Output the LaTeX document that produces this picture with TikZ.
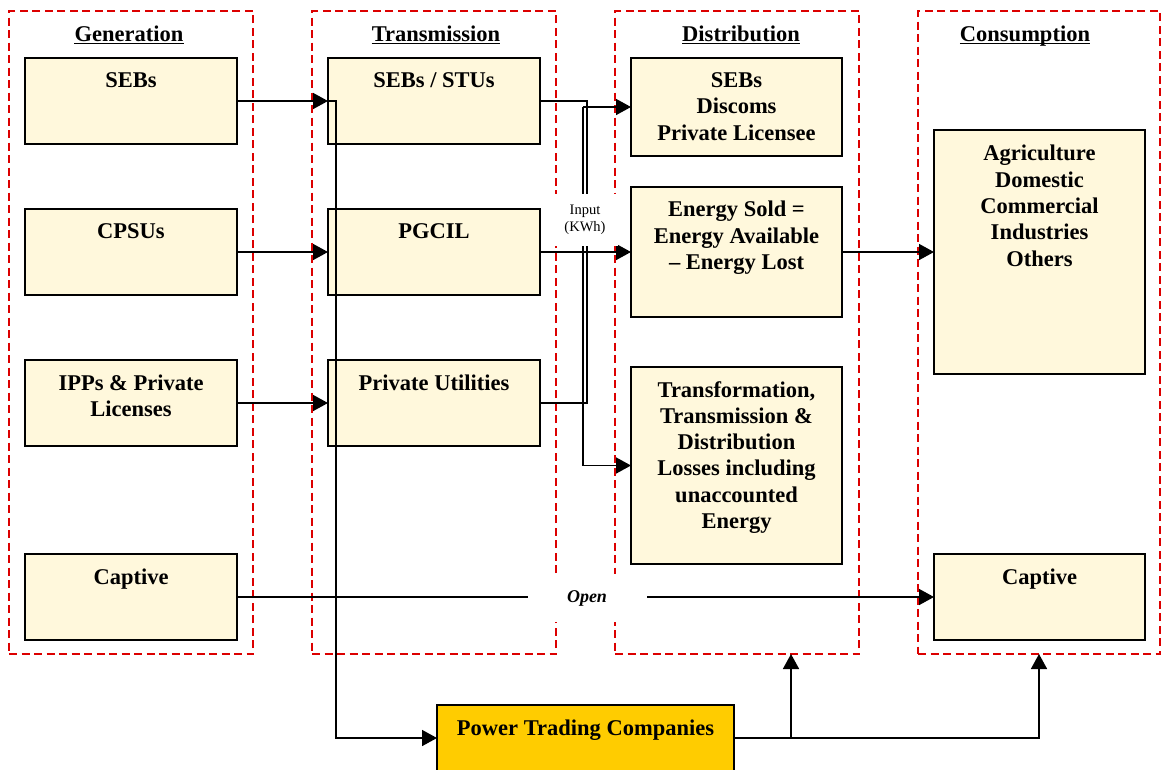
\documentclass[tikz,border=0pt]{standalone}
\usepackage{fontspec}
\setmainfont{Liberation Serif}
\usetikzlibrary{arrows.meta}
\definecolor{boxfill}{RGB}{255,248,220}
\definecolor{ptcfill}{RGB}{255,204,0}
\definecolor{dashred}{RGB}{220,0,0}
\tikzset{
  stage/.style={draw=dashred, line width=1.8pt, dash pattern=on 8pt off 4.5pt, rectangle, inner sep=0pt, outer sep=0pt, anchor=north west},
  ent/.style={draw=black, line width=1.7pt, fill=boxfill, rectangle, inner sep=0pt, outer sep=0pt, anchor=north west},
  hdr/.style={font=\fontsize{22.5}{26}\selectfont\bfseries, inner sep=0pt, anchor=base},
  txt/.style={font=\fontsize{22.5}{26.3}\selectfont\bfseries, align=center, inner sep=0pt, anchor=north},
  conn/.style={line width=1.6pt, draw=black},
  arr/.style={conn, -{Triangle[length=15pt,width=16pt]}},
  uline/.style={line width=1.6pt},
  cover/.style={fill=white, inner sep=0pt, outer sep=0pt}
}
\begin{document}
\begin{tikzpicture}[x=1pt,y=-1pt]
\useasboundingbox (0,0) rectangle (1162,769);

% stage frames
\node[stage, minimum width=244pt, minimum height=643pt] (sGen) at (9,11) {};
\node[stage, minimum width=244pt, minimum height=643pt] (sTra) at (312,11) {};
\node[stage, minimum width=244pt, minimum height=643pt] (sDis) at (615,11) {};
\node[stage, minimum width=242pt, minimum height=643pt] (sCon) at (918,11) {};

% headers
\node[hdr] (hGen) at (129,41) {Generation};
\node[hdr] (hTra) at (436,41) {Transmission};
\node[hdr] (hDis) at (741,41) {Distribution};
\node[hdr] (hCon) at (1025,41) {Consumption};
\foreach \h in {hGen,hTra,hDis,hCon}
  \draw[uline] ([yshift=-2.6pt]\h.base west) -- ([yshift=-2.6pt]\h.base east);

% generation boxes
\node[ent, minimum width=212pt, minimum height=86pt] (g1) at (25,58) {};
\node[ent, minimum width=212pt, minimum height=86pt] (g2) at (25,209) {};
\node[ent, minimum width=212pt, minimum height=86pt] (g3) at (25,360) {};
\node[ent, minimum width=212pt, minimum height=86pt] (g4) at (25,554) {};
% transmission boxes
\node[ent, minimum width=212pt, minimum height=86pt] (t1) at (328,58) {};
\node[ent, minimum width=212pt, minimum height=86pt] (t2) at (328,209) {};
\node[ent, minimum width=212pt, minimum height=86pt] (t3) at (328,360) {};
% distribution boxes
\node[ent, minimum width=211pt, minimum height=98pt] (d1) at (631,58) {};
\node[ent, minimum width=211pt, minimum height=130pt] (d2) at (631,187) {};
\node[ent, minimum width=211pt, minimum height=197pt] (d3) at (631,367) {};
% consumption boxes
\node[ent, minimum width=211pt, minimum height=244pt] (c1) at (934,130) {};
\node[ent, minimum width=211pt, minimum height=86pt] (c2) at (934,554) {};
% power trading
\node[ent, fill=ptcfill, minimum width=297pt, minimum height=66pt] (ptc) at (437,705) {};

% box texts
\node[txt] (g1t) at ([yshift=-14.5pt]g1.north) {SEBs};
\node[txt] (g2t) at ([yshift=-14.5pt]g2.north) {CPSUs};
\node[txt] (g3t) at ([yshift=-14.5pt]g3.north) {IPPs \& Private\\Licenses};
\node[txt] (g4t) at ([yshift=-14.5pt]g4.north) {Captive};
\node[txt] (t1t) at ([yshift=-14.5pt]t1.north) {SEBs / STUs};
\node[txt] (t2t) at ([yshift=-14.5pt]t2.north) {PGCIL};
\node[txt] (t3t) at ([yshift=-14.5pt]t3.north) {Private Utilities};
\node[txt] (d1t) at ([yshift=-14.5pt]d1.north) {SEBs\\Discoms\\Private Licensee};
\node[txt] (d2t) at ([yshift=-14pt]d2.north) {Energy Sold =\\Energy Available\\– Energy Lost};
\node[txt] (d3t) at ([yshift=-14pt]d3.north) {Transformation,\\Transmission \&\\Distribution\\Losses including\\unaccounted\\Energy};
\node[txt] (c1t) at ([yshift=-15pt]c1.north) {Agriculture\\Domestic\\Commercial\\Industries\\Others};
\node[txt] (c2t) at ([yshift=-14.5pt]c2.north) {Captive};
\node[txt] (ptct) at ([yshift=-15pt]ptc.north) {Power Trading Companies};

% connectors generation -> transmission
\draw[arr] (g1.east) -- (t1.west);
\draw[arr] (g2.east) -- (t2.west);
\draw[arr] (g3.east) -- (t3.west);
% SEBs/STUs down to power trading
\draw[arr] (t1.west) -- ++(8,0) |- (ptc.west);
% transmission -> distribution
\coordinate (bus) at (583,107);
\draw[conn] (t1.east) -- ++(47,0) |- (t3.east);
\draw[arr] (bus) -- (d1.west);
\draw[arr] (bus) |- (d3.west);
\draw[arr] (t2.east) -- (d2.west);
% distribution -> consumption
\draw[arr] (d2.east) -- (c1.west);
% captive open access
\draw[arr] (g4.east) -- (c2.west);
% power trading outputs
\coordinate (disbot) at (791,654);
\draw[arr] (ptc.east) -| (sCon.south);
\draw[arr] (ptc.east -| disbot) -- (disbot);

% labels on white
\node[cover, minimum width=66pt, minimum height=52pt, font=\fontsize{14.5}{17}\selectfont, align=center] (inp) at (585,220) {Input\\(KWh)};
\node[cover, minimum width=119pt, minimum height=48pt, font=\fontsize{18}{20}\selectfont\bfseries\itshape] (open) at (587,598) {Open};
\end{tikzpicture}
\end{document}
